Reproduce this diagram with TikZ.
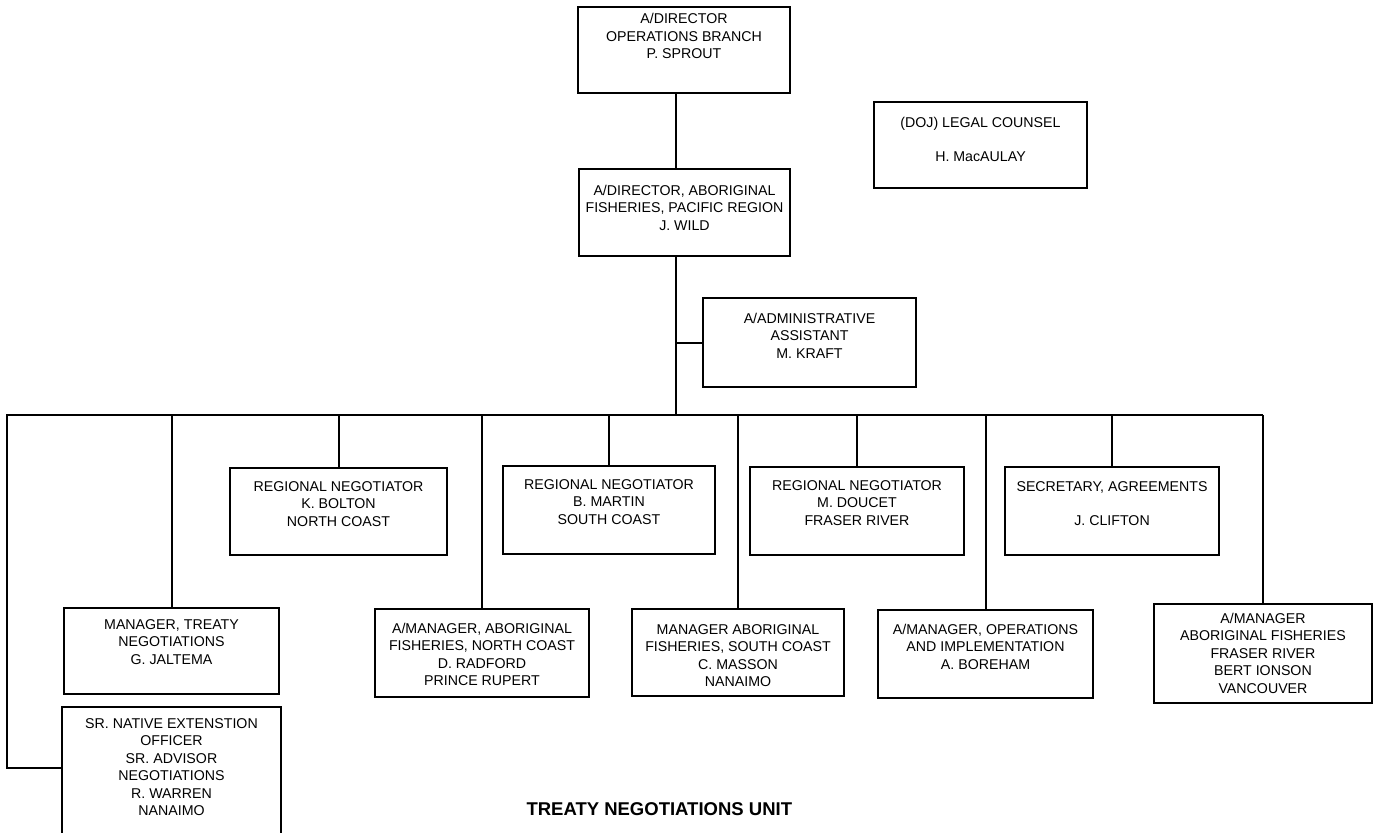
\documentclass[tikz,border=0pt]{standalone}
\usepackage{fontspec}
\setmainfont{Liberation Sans}

\newcommand{\orgtext}[4][23]{\parbox[c][#3pt][t]{#2pt}{\centering\rule{0pt}{#1pt}#4}}

\begin{document}
\begin{tikzpicture}[x=1pt,y=-1pt,
  orgbox/.style={draw,line width=2pt,inner sep=0pt,anchor=north west,font=\fontsize{14.2pt}{17.5pt}\selectfont},
  link/.style={line width=2pt}]
  \useasboundingbox (0,0) rectangle (1375,832);
  \fill[white] (0,0) rectangle (1375,832);
  \clip (0,0) rectangle (1375,832);
  %top
  \node[orgbox,at={(577,6)}] (sprout) {\orgtext[17]{212}{86}{A/DIRECTOR\\OPERATIONS BRANCH\\P. SPROUT}};
  \node[orgbox,at={(578,168)}] (wild) {\orgtext[26]{211}{87}{A/DIRECTOR, ABORIGINAL\\FISHERIES, PACIFIC REGION\\J. WILD}};
  \node[orgbox,at={(873,101)}] (legal) {\orgtext[25]{213}{86}{(DOJ) LEGAL COUNSEL\\[17pt]H. MacAULAY}};
  \node[orgbox,at={(702,297)}] (kraft) {\orgtext[25]{213}{89}{A/ADMINISTRATIVE\\ASSISTANT\\M. KRAFT}};
  %upper row
  \node[orgbox,at={(229,467)}] (bolton) {\orgtext{217}{87}{REGIONAL NEGOTIATOR\\K. BOLTON\\NORTH COAST}};
  \node[orgbox,at={(502,465)}] (martin) {\orgtext{212}{88}{REGIONAL NEGOTIATOR\\B. MARTIN\\SOUTH COAST}};
  \node[orgbox,at={(749,466)}] (doucet) {\orgtext{214}{88}{REGIONAL NEGOTIATOR\\M. DOUCET\\FRASER RIVER}};
  \node[orgbox,at={(1004,466)}] (clifton) {\orgtext[24]{214}{88}{SECRETARY, AGREEMENTS\\[17pt]J. CLIFTON}};
  %lower row
  \node[orgbox,at={(63,607)}] (jaltema) {\orgtext[21]{215}{86}{MANAGER, TREATY\\NEGOTIATIONS\\G. JALTEMA}};
  \node[orgbox,at={(61,706)}] (warren) {\orgtext[21]{219}{134}{SR. NATIVE EXTENSTION\\OFFICER\\SR. ADVISOR\\NEGOTIATIONS\\R. WARREN\\NANAIMO}};
  \node[orgbox,at={(374,608)}] (radford) {\orgtext[24]{214}{88}{A/MANAGER, ABORIGINAL\\FISHERIES, NORTH COAST\\D. RADFORD\\PRINCE RUPERT}};
  \node[orgbox,at={(631,608)}] (masson) {\orgtext[25]{212}{87}{MANAGER ABORIGINAL\\FISHERIES, SOUTH COAST\\C. MASSON\\NANAIMO}};
  \node[orgbox,at={(877,609)}] (boreham) {\orgtext[24]{215}{88}{A/MANAGER, OPERATIONS\\AND IMPLEMENTATION\\A. BOREHAM}};
  \node[orgbox,at={(1153,603)}] (ionson) {\orgtext[19]{218}{99}{A/MANAGER\\ABORIGINAL FISHERIES\\FRASER RIVER\\BERT IONSON\\VANCOUVER}};
  %title
  \node[font=\bfseries\fontsize{18.5pt}{22pt}\selectfont,anchor=base west,at={(523,815)}] (title) {TREATY NEGOTIATIONS UNIT};

  %links
  \coordinate (bus) at (676,415);
  \coordinate (busleft) at (7,415);
  \draw[link] (bus |- sprout.south) -- (bus |- wild.north);
  \draw[link] (bus |- wild.south) -- (bus);
  \draw[link] (bus |- kraft.west) -- (kraft.west);
  \draw[link] (ionson.north |- bus) -- (busleft) |- ([yshift=6pt]warren.west);
  \foreach \n in {jaltema,bolton,radford,martin,masson,doucet,boreham,clifton,ionson}
    \draw[link] (\n.north) -- (\n.north |- bus);
\end{tikzpicture}
\end{document}
